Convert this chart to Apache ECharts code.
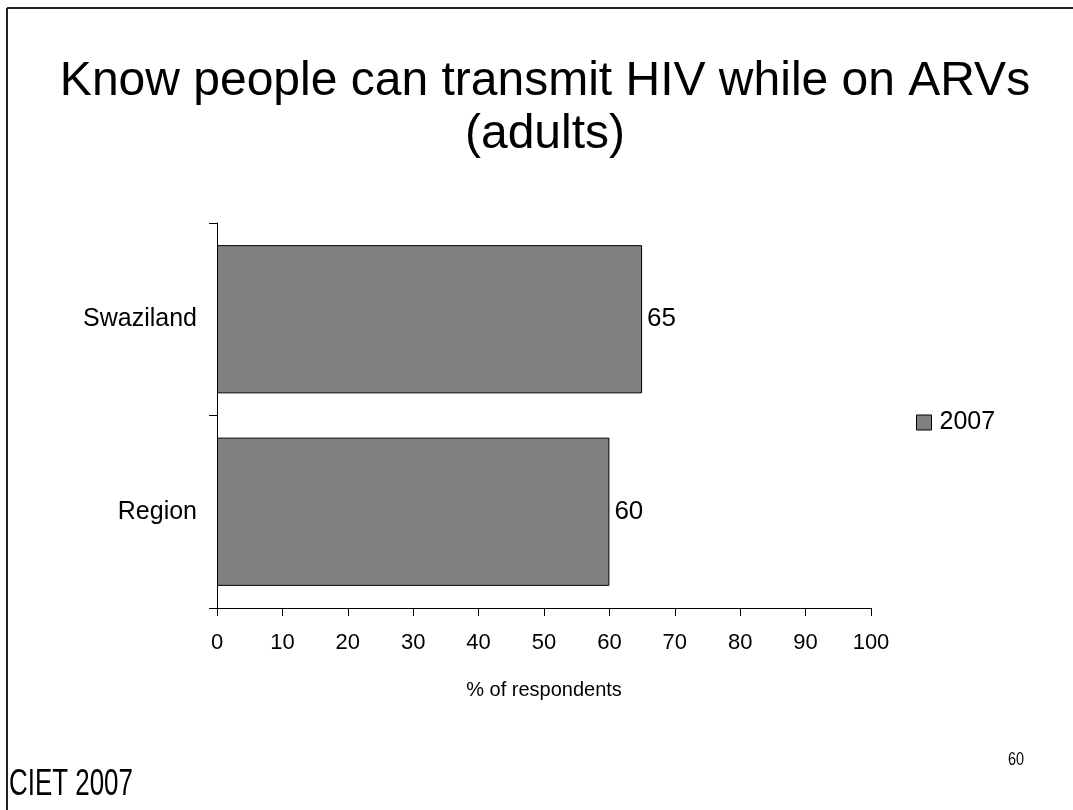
<!DOCTYPE html>
<html>
<head>
<meta charset="utf-8">
<script src="https://cdn.jsdelivr.net/npm/echarts@6/dist/echarts.min.js"></script>
<style>html,body{margin:0;padding:0;background:#fff;}#c{width:1073px;height:810px;}</style>
</head>
<body>
<div id="c"></div>
<script>
const categories = ['Region', 'Swaziland'];
const values2007 = [60, 65];
const xTicks = [0, 10, 20, 30, 40, 50, 60, 70, 80, 90, 100];
const seriesName = '2007';
const titleText = 'Know people can transmit HIV while on ARVs\n(adults)';

const chart = echarts.init(document.getElementById('c'));
chart.setOption({
  animation: false,
  backgroundColor: '#fff',
  title: {
    text: titleText,
    left: 540,
    top: 50,
    textAlign: 'center',
    textStyle: { fontFamily: 'Liberation Sans', fontSize: 48, fontWeight: 'normal', color: '#000', lineHeight: 53 }
  },
  legend: {
    data: [seriesName],
    left: 911,
    top: 405,
    icon: 'rect',
    itemWidth: 15,
    itemHeight: 15,
    itemGap: 6,
    textStyle: { fontFamily: 'Liberation Sans', fontSize: 25, color: '#000', padding: [0, 0, 0, 3] },
    itemStyle: { borderColor: '#000', borderWidth: 1 }
  },
  grid: { left: 217, right: 202, top: 223, bottom: 202, containLabel: false },
  xAxis: {
    type: 'value',
    min: xTicks[0],
    max: xTicks[xTicks.length - 1],
    interval: 10,
    name: '% of respondents',
    nameLocation: 'middle',
    nameGap: 72,
    nameTextStyle: { fontFamily: 'Liberation Sans', fontSize: 20, color: '#000' },
    axisLine: { show: true, lineStyle: { color: '#000', width: 1 } },
    axisTick: { show: true, length: 8, lineStyle: { color: '#000' } },
    axisLabel: { fontFamily: 'Liberation Sans', fontSize: 22, color: '#000', margin: 24 },
    splitLine: { show: false }
  },
  yAxis: {
    type: 'category',
    data: categories,
    axisLine: { show: true, lineStyle: { color: '#000', width: 1 } },
    axisTick: { show: true, length: 8, lineStyle: { color: '#000' } },
    axisLabel: { fontFamily: 'Liberation Sans', fontSize: 25, color: '#000', margin: 20 },
    splitLine: { show: false }
  },
  series: [{
    name: seriesName,
    type: 'bar',
    data: values2007,
    barCategoryGap: '23%',
    itemStyle: { color: '#808080', borderColor: '#000', borderWidth: 1 },
    label: { show: true, position: 'right', distance: 5, fontFamily: 'Liberation Sans', fontSize: 26, color: '#000' }
  }],
  graphic: [
    { type: 'line', shape: { x1: 7, y1: 8, x2: 1073, y2: 8 }, style: { stroke: '#222', lineWidth: 2 } },
    { type: 'line', shape: { x1: 7, y1: 8, x2: 7, y2: 810 }, style: { stroke: '#222', lineWidth: 2 } },
    { type: 'text', x: 9, y: 767, scaleX: 0.72, style: { text: 'CIET 2007', fontFamily: 'Liberation Sans', fontSize: 36, fill: '#000' } },
    { type: 'text', x: 1008, y: 751, scaleX: 0.8, style: { text: '60', fontFamily: 'Liberation Sans', fontSize: 18, fill: '#000' } }
  ]
});
</script>
</body>
</html>
